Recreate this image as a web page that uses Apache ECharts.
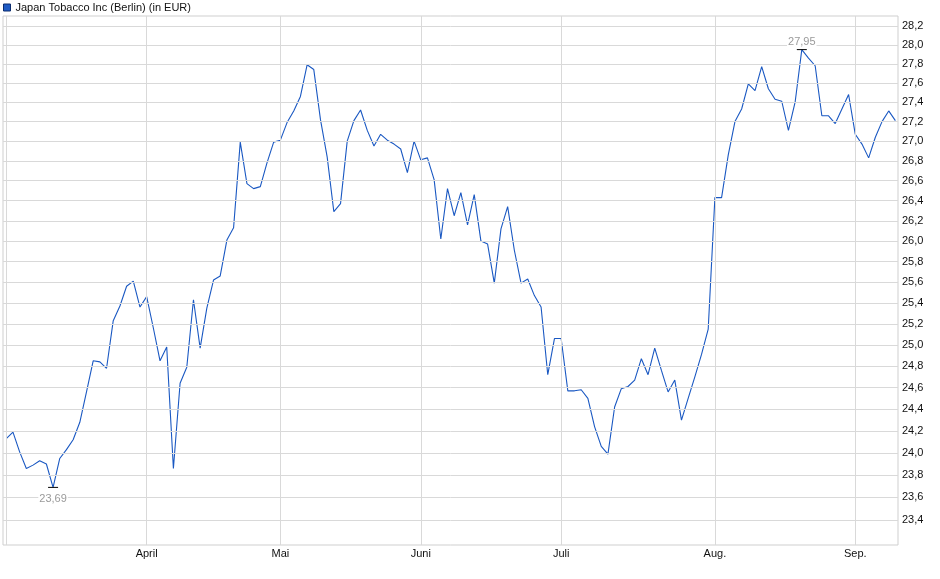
<!DOCTYPE html>
<html>
<head>
<meta charset="utf-8">
<script src="https://cdn.jsdelivr.net/npm/echarts@6/dist/echarts.min.js"></script>
<style>
html,body{margin:0;padding:0;background:#fff;}
#chart{width:940px;height:579px;}
</style>
</head>
<body>
<div id="chart"></div>
<script>
// ---- data ----
const seriesName = 'Japan Tobacco Inc (Berlin) (in EUR)';
const firstDay = '2025-03-03';
const lastDay = '2025-09-09';
const holidays = ['2025-04-18', '2025-04-21', '2025-05-01'];
const monthNames = ['Jan.', 'Feb.', 'März', 'April', 'Mai', 'Juni', 'Juli', 'Aug.', 'Sep.', 'Okt.', 'Nov.', 'Dez.'];
const prices = [
  24.13, 24.19, 24.01, 23.86, 23.89, 23.93, 23.90, 23.69, 23.95, 24.03,
  24.12, 24.28, 24.56, 24.85, 24.84, 24.78, 25.23, 25.37, 25.56, 25.61,
  25.36, 25.46, 25.16, 24.85, 24.98, 23.86, 24.64, 24.79, 25.43, 24.97,
  25.35, 25.62, 25.66, 26.01, 26.13, 26.99, 26.57, 26.52, 26.54, 26.78,
  26.99, 27.01, 27.19, 27.31, 27.46, 27.79, 27.74, 27.22, 26.84, 26.29,
  26.37, 27.00, 27.21, 27.32, 27.11, 26.95, 27.07, 27.01, 26.97, 26.92,
  26.68, 27.00, 26.81, 26.83, 26.61, 26.02, 26.52, 26.25, 26.48, 26.16,
  26.46, 26.00, 25.97, 25.59, 26.12, 26.34, 25.91, 25.59, 25.63, 25.47,
  25.36, 24.72, 25.06, 25.06, 24.57, 24.57, 24.58, 24.50, 24.24, 24.06,
  23.99, 24.42, 24.59, 24.61, 24.67, 24.87, 24.72, 24.97, 24.76, 24.56,
  24.67, 24.30, 24.50, 24.70, 24.91, 25.15, 26.43, 26.43, 26.86, 27.20,
  27.33, 27.59, 27.52, 27.77, 27.54, 27.43, 27.41, 27.11, 27.40, 27.95,
  27.86, 27.78, 27.26, 27.26, 27.18, 27.33, 27.48, 27.07, 26.97, 26.83,
  27.04, 27.20, 27.31, 27.21
];
const yTicks = [23.4, 23.6, 23.8, 24.0, 24.2, 24.4, 24.6, 24.8, 25.0, 25.2, 25.4, 25.6, 25.8,
  26.0, 26.2, 26.4, 26.6, 26.8, 27.0, 27.2, 27.4, 27.6, 27.8, 28.0, 28.2];
const yMin = 23.18, yMax = 28.307;

// ---- trading-day categories ----
function pad(n){ return (n < 10 ? '0' : '') + n; }
function fmt(d){ return d.getUTCFullYear() + '-' + pad(d.getUTCMonth() + 1) + '-' + pad(d.getUTCDate()); }
const dates = [];
for (let d = new Date(firstDay + 'T00:00:00Z'); fmt(d) <= lastDay; d.setUTCDate(d.getUTCDate() + 1)) {
  const wd = d.getUTCDay();
  const s = fmt(d);
  if (wd !== 0 && wd !== 6 && holidays.indexOf(s) < 0) dates.push(s);
}

const FONT = 'Liberation Sans, Arial, Helvetica, sans-serif';
const comma = (v, n) => v.toFixed(n).replace('.', ',');

// month starts
const monthLines = [];
dates.forEach((s, i) => {
  if (i === 0 || s.slice(5, 7) !== dates[i - 1].slice(5, 7)) {
    monthLines.push({
      xAxis: i,
      label: {
        show: i !== 0,
        position: 'start',
        distance: 3,
        formatter: monthNames[parseInt(s.slice(5, 7), 10) - 1],
        color: '#111', fontSize: 11, fontFamily: FONT
      }
    });
  }
});
const tickLines = yTicks.map(v => ({
  yAxis: v,
  label: {
    show: true, position: 'end', distance: 4,
    formatter: comma(v, 1), color: '#111', fontSize: 11, fontFamily: FONT
  }
}));

const chart = echarts.init(document.getElementById('chart'), null, {renderer: 'canvas'});
chart.setOption({
  animation: false,
  backgroundColor: '#fff',
  legend: {
    show: true, left: 3, top: 2, padding: 0, itemGap: 5,
    icon: 'rect', itemWidth: 7, itemHeight: 7,
    data: [{ name: seriesName, itemStyle: { color: '#1f5bc4', borderColor: '#0c2c6e', borderWidth: 1 } }],
    textStyle: { fontSize: 11, color: '#111', fontFamily: FONT, padding: [1, 0, 0, 0] },
    selectedMode: false
  },
  grid: {
    left: 3, right: 42, top: 16, bottom: 34,
    show: true, borderColor: '#cfcfcf', borderWidth: 1, backgroundColor: '#fff'
  },
  xAxis: {
    type: 'value', min: -0.49, max: dates.length - 1 + 0.39,
    axisLine: { show: false }, axisTick: { show: false }, axisLabel: { show: false }, splitLine: { show: false }
  },
  yAxis: {
    type: 'log', logBase: 10, min: yMin, max: yMax,
    axisLine: { show: false }, axisTick: { show: false }, axisLabel: { show: false }, splitLine: { show: false }
  },
  series: [{
    name: seriesName,
    type: 'line',
    data: prices.map((p, i) => [i, p]),
    showSymbol: false,
    symbol: 'none',
    color: '#1f5bc4',
    lineStyle: { color: '#1a58c2', width: 1.1 },
    z: 3,
    markLine: {
      silent: true,
      symbol: ['none', 'none'],
      animation: false,
      lineStyle: { color: '#d9d9d9', width: 1, type: 'solid' },
      emphasis: { disabled: true },
      data: tickLines.concat(monthLines)
    },
    markPoint: {
      silent: true,
      symbol: 'rect',
      symbolSize: [10, 1],
      itemStyle: { color: '#000' },
      data: [
        { type: 'min', valueDim: 'y',
          label: { position: 'bottom', distance: 6 } },
        { type: 'max', valueDim: 'y',
          label: { position: 'top', distance: 2 } }
      ],
      label: {
        show: true, color: '#9a9a9a', fontSize: 11, fontFamily: FONT,
        backgroundColor: '#fff', padding: [0, 1],
        formatter: p => comma(p.value, 2)
      }
    }
  }]
});
</script>
</body>
</html>
